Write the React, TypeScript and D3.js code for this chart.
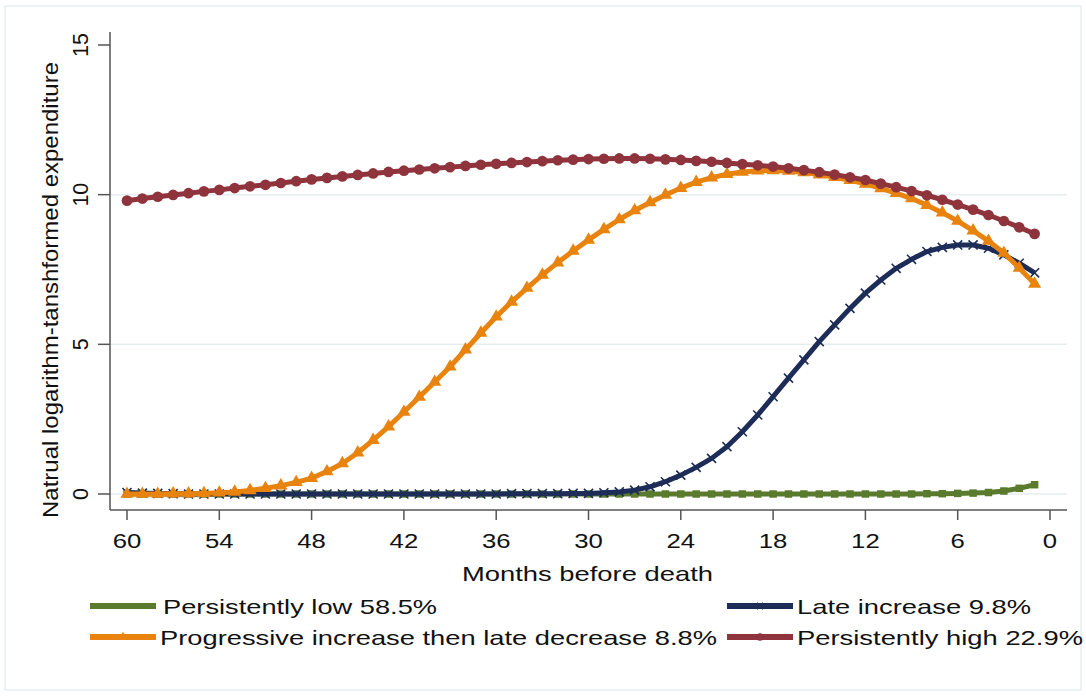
import React from "react";
import * as d3 from "d3";

const months = [60,59,58,57,56,55,54,53,52,51,50,49,48,47,46,45,44,43,42,41,40,39,38,37,36,35,34,33,32,31,30,29,28,27,26,25,24,23,22,21,20,19,18,17,16,15,14,13,12,11,10,9,8,7,6,5,4,3,2,1];

const persistentlyLow = [0,0,0,0,0,0,0,0,0,0,0,0,0,0,0,0,0,0,0,0,0,0,0,0,0,0,0,0,0,0,0,0,0,0,0,0,0,0,0,0,0,0,0,0,0,0,0,0,0,0,0,0,0.01,0.01,0.02,0.03,0.05,0.1,0.19,0.31];

const lateIncrease = [0.05,0.03,0.02,0.01,0,0,0,0,0,0,0,0,0,0,0,0,0,0,0,0,0,0,0,0,0,0.01,0.01,0.01,0.01,0.02,0.02,0.04,0.07,0.13,0.24,0.41,0.63,0.89,1.19,1.58,2.08,2.64,3.25,3.87,4.48,5.09,5.65,6.2,6.71,7.15,7.54,7.84,8.1,8.24,8.32,8.32,8.21,7.99,7.71,7.39];

const progressive = [0,0,0,0.01,0.01,0.02,0.04,0.07,0.12,0.19,0.28,0.39,0.53,0.75,1.02,1.38,1.8,2.25,2.74,3.24,3.74,4.25,4.82,5.38,5.92,6.42,6.88,7.32,7.73,8.12,8.49,8.84,9.17,9.47,9.74,9.99,10.22,10.42,10.57,10.68,10.76,10.8,10.81,10.79,10.74,10.67,10.58,10.48,10.36,10.21,10.05,9.87,9.65,9.4,9.12,8.8,8.45,8.05,7.55,7.02];

const persistentlyHigh = [9.8,9.87,9.93,9.99,10.05,10.11,10.16,10.22,10.28,10.33,10.39,10.45,10.51,10.56,10.61,10.66,10.71,10.76,10.8,10.84,10.88,10.92,10.96,11,11.03,11.06,11.09,11.12,11.15,11.17,11.19,11.2,11.21,11.21,11.2,11.18,11.16,11.13,11.1,11.06,11.02,10.98,10.94,10.88,10.82,10.75,10.67,10.58,10.49,10.37,10.25,10.12,9.98,9.83,9.67,9.5,9.32,9.12,8.91,8.69];

const xTicks = [60, 54, 48, 42, 36, 30, 24, 18, 12, 6, 0];
const yTicks = [0, 5, 10, 15];
const yGrid = [0, 5, 10];

const seriesNames = [
  "Persistently low 58.5%",
  "Late increase 9.8%",
  "Progressive increase then late decrease 8.8%",
  "Persistently high 22.9%",
];

const FONT = "'Liberation Sans', Arial, Helvetica, sans-serif";

type Series = {
  name: string;
  values: number[];
  color: string;
  symbol: d3.SymbolType;
  size: number;
  stroke: boolean;
  legendX: number;
  legendY: number;
  textX: number;
  textLen: number;
};

const series: Series[] = [
  { name: seriesNames[0], values: persistentlyLow, color: "#5a7b2e", symbol: d3.symbolSquare, size: 56, stroke: false, legendX: 90, legendY: 606, textX: 163, textLen: 274 },
  { name: seriesNames[1], values: lateIncrease, color: "#1d2d58", symbol: d3.symbolX, size: 55, stroke: true, legendX: 727, legendY: 606, textX: 797, textLen: 234 },
  { name: seriesNames[2], values: progressive, color: "#e8830e", symbol: d3.symbolTriangle, size: 75, stroke: false, legendX: 90, legendY: 637, textX: 160, textLen: 557 },
  { name: seriesNames[3], values: persistentlyHigh, color: "#8f343c", symbol: d3.symbolCircle, size: 90, stroke: false, legendX: 727, legendY: 637, textX: 797, textLen: 286 },
];

export default function App() {
  const x = d3.scaleLinear().domain([60, 0]).range([127, 1050]);
  const y = d3.scaleLinear().domain([0, 15]).range([494, 45]);
  const plotLeft = 110;
  const plotRight = 1067;
  const plotTop = 32;
  const plotBottom = 510;

  const line = d3
    .line<number>()
    .x((_, i) => x(months[i]))
    .y((d) => y(d));

  return (
    <svg
      width={1086}
      height={700}
      style={{ position: "absolute", left: 0, top: 0, display: "block", background: "#fff" }}
      fontFamily={FONT}
    >
      <rect x={5} y={6} width={1076} height={684} fill="#fff" stroke="#e8eef2" strokeWidth={1.5} />
      {yGrid.map((v) => (
        <line key={"g" + v} x1={plotLeft} x2={plotRight} y1={y(v)} y2={y(v)} stroke="#e6edf1" strokeWidth={1.5} />
      ))}
      <line x1={plotLeft} x2={plotLeft} y1={plotTop} y2={plotBottom} stroke="#555" strokeWidth={1.5} />
      <line x1={plotLeft} x2={plotRight} y1={plotBottom} y2={plotBottom} stroke="#555" strokeWidth={1.5} />
      {yTicks.map((v) => (
        <g key={"yt" + v}>
          <line x1={98} x2={plotLeft} y1={y(v)} y2={y(v)} stroke="#555" strokeWidth={1.5} />
          <text
            transform={`translate(88,${y(v)}) rotate(-90)`}
            textAnchor="middle"
            fontSize={21.5}
            fill="#111"
          >
            {v}
          </text>
        </g>
      ))}
      {xTicks.map((t) => (
        <g key={"xt" + t}>
          <line x1={x(t)} x2={x(t)} y1={plotBottom} y2={520} stroke="#555" strokeWidth={1.5} />
          <text
            x={x(t)}
            y={548}
            textAnchor="middle"
            fontSize={20}
            fill="#111"
            textLength={String(t).length * 14.3}
            lengthAdjust="spacingAndGlyphs"
          >
            {t}
          </text>
        </g>
      ))}
      <text
        x={587.5}
        y={581}
        textAnchor="middle"
        fontSize={21}
        fill="#111"
        textLength={251}
        lengthAdjust="spacingAndGlyphs"
      >
        Months before death
      </text>
      <text
        transform="translate(58,290) rotate(-90)"
        textAnchor="middle"
        fontSize={21.5}
        fill="#111"
        textLength={456}
        lengthAdjust="spacingAndGlyphs"
      >
        Natrual logarithm-tanshformed expenditure
      </text>

      {series.map((s) => (
        <g key={s.name}>
          <path d={line(s.values) || ""} fill="none" stroke={s.color} strokeWidth={5} strokeLinejoin="round" />
          {s.values.map((v, i) => (
            <path
              key={i}
              d={d3.symbol().type(s.symbol).size(s.size)() || ""}
              transform={`translate(${x(months[i])},${y(v)})`}
              fill={s.stroke ? "none" : s.color}
              stroke={s.color}
              strokeWidth={s.stroke ? 1.6 : 0}
            />
          ))}
        </g>
      ))}

      {series.map((s) => (
        <g key={"lg" + s.name}>
          <line x1={s.legendX} x2={s.legendX + 66} y1={s.legendY} y2={s.legendY} stroke={s.color} strokeWidth={6} />
          <path
            d={d3.symbol().type(s.symbol).size(s.size * 0.5)() || ""}
            transform={`translate(${s.legendX + 33},${s.legendY})`}
            fill={s.stroke ? "none" : s.color}
            stroke={s.color}
            strokeWidth={s.stroke ? 1.6 : 0}
          />
          <text
            x={s.textX}
            y={s.legendY + 8}
            fontSize={21}
            fill="#111"
            textLength={s.textLen}
            lengthAdjust="spacingAndGlyphs"
          >
            {s.name}
          </text>
        </g>
      ))}
    </svg>
  );
}
